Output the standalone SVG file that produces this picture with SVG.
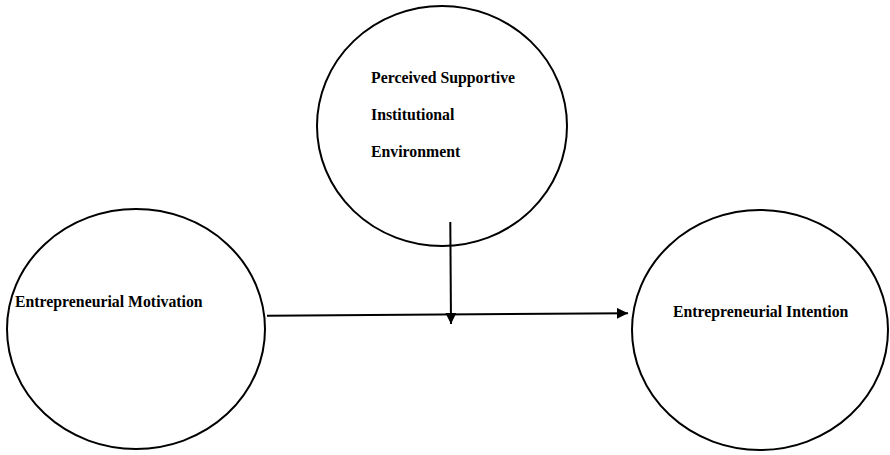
<svg xmlns="http://www.w3.org/2000/svg" width="890" height="455" viewBox="0 0 890 455">
<style>
.node ellipse{fill:#fff;stroke:#000;stroke-width:2}
.node text{font-family:"Liberation Serif","Times New Roman",serif;font-weight:bold;font-size:15.8px;fill:#000}
.conn line{stroke:#000;stroke-width:2}
</style>
<defs>
<marker id="ah" viewBox="0 0 10 10" refX="10" refY="5" markerWidth="5.5" markerHeight="5.5" orient="auto" markerUnits="strokeWidth">
<path d="M0,0 L10,5 L0,10 Z" fill="#000"/>
</marker>
</defs>
<rect width="890" height="455" fill="#fff"/>
<g id="node-psie" class="node">
<ellipse cx="442" cy="126" rx="125" ry="120"/>
<text x="371" y="83">Perceived Supportive</text>
<text x="371" y="120">Institutional</text>
<text x="371" y="157">Environment</text>
</g>
<g id="node-em" class="node">
<ellipse cx="136" cy="329" rx="129" ry="120"/>
<text x="15" y="307">Entrepreneurial Motivation</text>
</g>
<g id="node-ei" class="node">
<ellipse cx="760" cy="330" rx="128" ry="120"/>
<text x="673" y="317">Entrepreneurial Intention</text>
</g>
<g id="connectors" class="conn">
<line x1="267" y1="315.7" x2="628" y2="313.3" marker-end="url(#ah)"/>
<line x1="450.3" y1="222" x2="451" y2="324" marker-end="url(#ah)"/>
</g>
</svg>
